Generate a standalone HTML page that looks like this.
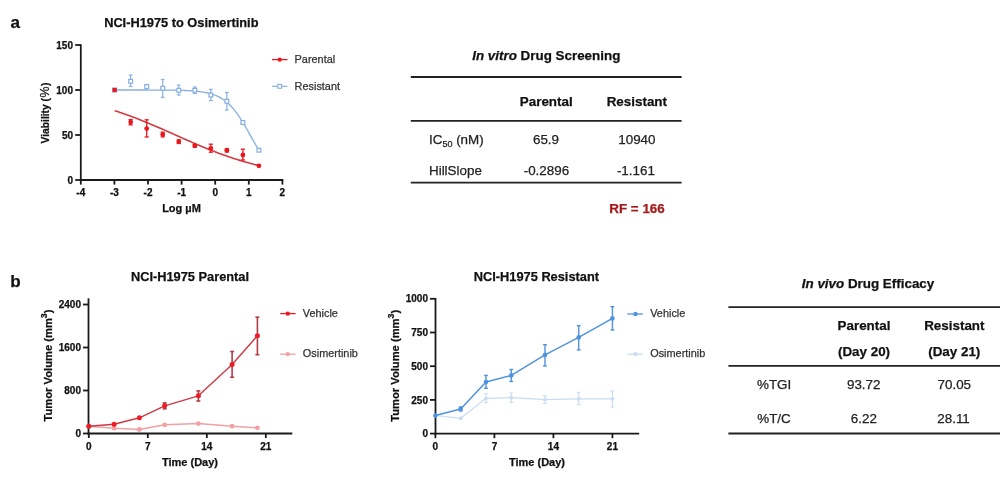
<!DOCTYPE html>
<html><head><meta charset="utf-8"><title>NCI-H1975 Osimertinib</title>
<style>
html,body{margin:0;padding:0;background:#fff;width:1000px;height:479px;overflow:hidden}
svg{display:block;will-change:transform;font-family:"Liberation Sans",sans-serif}
text{stroke-width:0.25px}
</style></head><body>
<svg width="1000" height="479" viewBox="0 0 1000 479">
<text x="10.50" y="27.60" font-size="17" font-weight="bold" text-anchor="start" fill="#111" stroke="#111" >a</text>
<text x="181.30" y="26.80" font-size="12.8" font-weight="bold" text-anchor="middle" fill="#111" stroke="#111" >NCI-H1975 to Osimertinib</text>
<line x1="80.80" y1="44.30" x2="80.80" y2="180.90" stroke="#1a1a1a" stroke-width="1.8" stroke-linecap="butt"/>
<line x1="80.00" y1="180.00" x2="283.30" y2="180.00" stroke="#1a1a1a" stroke-width="1.8" stroke-linecap="butt"/>
<line x1="75.20" y1="180.00" x2="80.80" y2="180.00" stroke="#1a1a1a" stroke-width="1.8" stroke-linecap="butt"/>
<text x="73.00" y="183.60" font-size="10" font-weight="bold" text-anchor="end" fill="#111" stroke="#111" >0</text>
<line x1="75.20" y1="135.00" x2="80.80" y2="135.00" stroke="#1a1a1a" stroke-width="1.8" stroke-linecap="butt"/>
<text x="73.00" y="138.60" font-size="10" font-weight="bold" text-anchor="end" fill="#111" stroke="#111" >50</text>
<line x1="75.20" y1="90.00" x2="80.80" y2="90.00" stroke="#1a1a1a" stroke-width="1.8" stroke-linecap="butt"/>
<text x="73.00" y="93.60" font-size="10" font-weight="bold" text-anchor="end" fill="#111" stroke="#111" >100</text>
<line x1="75.20" y1="45.00" x2="80.80" y2="45.00" stroke="#1a1a1a" stroke-width="1.8" stroke-linecap="butt"/>
<text x="73.00" y="48.60" font-size="10" font-weight="bold" text-anchor="end" fill="#111" stroke="#111" >150</text>
<line x1="80.80" y1="180.00" x2="80.80" y2="184.60" stroke="#1a1a1a" stroke-width="1.8" stroke-linecap="butt"/>
<text x="80.80" y="196.00" font-size="10" font-weight="bold" text-anchor="middle" fill="#111" stroke="#111" >-4</text>
<line x1="114.40" y1="180.00" x2="114.40" y2="184.60" stroke="#1a1a1a" stroke-width="1.8" stroke-linecap="butt"/>
<text x="114.40" y="196.00" font-size="10" font-weight="bold" text-anchor="middle" fill="#111" stroke="#111" >-3</text>
<line x1="148.00" y1="180.00" x2="148.00" y2="184.60" stroke="#1a1a1a" stroke-width="1.8" stroke-linecap="butt"/>
<text x="148.00" y="196.00" font-size="10" font-weight="bold" text-anchor="middle" fill="#111" stroke="#111" >-2</text>
<line x1="181.60" y1="180.00" x2="181.60" y2="184.60" stroke="#1a1a1a" stroke-width="1.8" stroke-linecap="butt"/>
<text x="181.60" y="196.00" font-size="10" font-weight="bold" text-anchor="middle" fill="#111" stroke="#111" >-1</text>
<line x1="215.20" y1="180.00" x2="215.20" y2="184.60" stroke="#1a1a1a" stroke-width="1.8" stroke-linecap="butt"/>
<text x="215.20" y="196.00" font-size="10" font-weight="bold" text-anchor="middle" fill="#111" stroke="#111" >0</text>
<line x1="248.80" y1="180.00" x2="248.80" y2="184.60" stroke="#1a1a1a" stroke-width="1.8" stroke-linecap="butt"/>
<text x="248.80" y="196.00" font-size="10" font-weight="bold" text-anchor="middle" fill="#111" stroke="#111" >1</text>
<line x1="282.40" y1="180.00" x2="282.40" y2="184.60" stroke="#1a1a1a" stroke-width="1.8" stroke-linecap="butt"/>
<text x="282.40" y="196.00" font-size="10" font-weight="bold" text-anchor="middle" fill="#111" stroke="#111" >2</text>
<text x="181.50" y="212.00" font-size="11" font-weight="bold" text-anchor="middle" fill="#111" stroke="#111" >Log µM</text>
<text transform="translate(48.9,113.0) rotate(-90)" x="0" y="0" font-size="10.25" font-weight="bold" text-anchor="middle" fill="#111" stroke="#111">Viability (<tspan dx="0.5" font-size="12.4" font-weight="normal">%</tspan><tspan dx="0.5">)</tspan></text>
<polyline points="114.64,90.00 116.44,90.00 118.24,90.00 120.05,90.00 121.85,90.00 123.65,90.00 125.46,90.00 127.26,90.01 129.06,90.01 130.87,90.01 132.67,90.01 134.47,90.01 136.28,90.01 138.08,90.01 139.88,90.01 141.69,90.02 143.49,90.02 145.29,90.02 147.10,90.02 148.90,90.03 150.70,90.03 152.51,90.04 154.31,90.04 156.12,90.05 157.92,90.06 159.72,90.07 161.53,90.08 163.33,90.09 165.13,90.10 166.94,90.12 168.74,90.14 170.54,90.16 172.35,90.18 174.15,90.21 175.95,90.25 177.76,90.28 179.56,90.33 181.36,90.38 183.17,90.44 184.97,90.50 186.77,90.58 188.58,90.67 190.38,90.77 192.18,90.89 193.99,91.02 195.79,91.18 197.60,91.36 199.40,91.56 201.20,91.80 203.01,92.07 204.81,92.38 206.61,92.74 208.42,93.15 210.22,93.61 212.02,94.15 213.83,94.75 215.63,95.44 217.43,96.22 219.24,97.11 221.04,98.11 222.84,99.23 224.65,100.49 226.45,101.89 228.25,103.45 230.06,105.18 231.86,107.07 233.66,109.15 235.47,111.40 237.27,113.83 239.08,116.42 240.88,119.18 242.68,122.08 244.49,125.10 246.29,128.21 248.09,131.40 249.90,134.62 251.70,137.84 253.50,141.04 255.31,144.17 257.11,147.22 258.91,150.14" fill="none" stroke="#86b0e0" stroke-width="1.3" stroke-linejoin="round"/>
<polyline points="114.64,110.70 116.44,111.28 118.24,111.86 120.05,112.46 121.85,113.07 123.65,113.69 125.46,114.32 127.26,114.96 129.06,115.61 130.87,116.27 132.67,116.94 134.47,117.62 136.28,118.31 138.08,119.01 139.88,119.72 141.69,120.44 143.49,121.16 145.29,121.89 147.10,122.64 148.90,123.38 150.70,124.14 152.51,124.90 154.31,125.67 156.12,126.44 157.92,127.22 159.72,128.00 161.53,128.79 163.33,129.58 165.13,130.38 166.94,131.18 168.74,131.98 170.54,132.78 172.35,133.58 174.15,134.39 175.95,135.19 177.76,136.00 179.56,136.80 181.36,137.61 183.17,138.41 184.97,139.21 186.77,140.01 188.58,140.80 190.38,141.59 192.18,142.38 193.99,143.16 195.79,143.93 197.60,144.70 199.40,145.47 201.20,146.23 203.01,146.98 204.81,147.72 206.61,148.46 208.42,149.19 210.22,149.91 212.02,150.62 213.83,151.33 215.63,152.02 217.43,152.71 219.24,153.38 221.04,154.05 222.84,154.70 224.65,155.35 226.45,155.99 228.25,156.61 230.06,157.23 231.86,157.83 233.66,158.42 235.47,159.00 237.27,159.57 239.08,160.13 240.88,160.68 242.68,161.22 244.49,161.75 246.29,162.26 248.09,162.77 249.90,163.26 251.70,163.74 253.50,164.21 255.31,164.67 257.11,165.12 258.91,165.56" fill="none" stroke="#d63a40" stroke-width="1.6" stroke-linejoin="round"/>
<rect x="112.74" y="88.10" width="3.8" height="3.8" fill="#fff" stroke="#86b0e0" stroke-width="1.2"/>
<line x1="130.67" y1="75.10" x2="130.67" y2="86.40" stroke="#86b0e0" stroke-width="1.2" stroke-linecap="butt"/>
<line x1="128.87" y1="75.10" x2="132.47" y2="75.10" stroke="#86b0e0" stroke-width="1.2" stroke-linecap="butt"/>
<line x1="128.87" y1="86.40" x2="132.47" y2="86.40" stroke="#86b0e0" stroke-width="1.2" stroke-linecap="butt"/>
<rect x="128.77" y="79.40" width="3.8" height="3.8" fill="#fff" stroke="#86b0e0" stroke-width="1.2"/>
<line x1="146.70" y1="84.50" x2="146.70" y2="88.50" stroke="#86b0e0" stroke-width="1.2" stroke-linecap="butt"/>
<line x1="144.90" y1="84.50" x2="148.50" y2="84.50" stroke="#86b0e0" stroke-width="1.2" stroke-linecap="butt"/>
<line x1="144.90" y1="88.50" x2="148.50" y2="88.50" stroke="#86b0e0" stroke-width="1.2" stroke-linecap="butt"/>
<rect x="144.80" y="84.70" width="3.8" height="3.8" fill="#fff" stroke="#86b0e0" stroke-width="1.2"/>
<line x1="162.73" y1="79.50" x2="162.73" y2="97.40" stroke="#86b0e0" stroke-width="1.2" stroke-linecap="butt"/>
<line x1="160.93" y1="79.50" x2="164.53" y2="79.50" stroke="#86b0e0" stroke-width="1.2" stroke-linecap="butt"/>
<line x1="160.93" y1="97.40" x2="164.53" y2="97.40" stroke="#86b0e0" stroke-width="1.2" stroke-linecap="butt"/>
<rect x="160.83" y="86.40" width="3.8" height="3.8" fill="#fff" stroke="#86b0e0" stroke-width="1.2"/>
<line x1="178.76" y1="85.00" x2="178.76" y2="95.00" stroke="#86b0e0" stroke-width="1.2" stroke-linecap="butt"/>
<line x1="176.96" y1="85.00" x2="180.56" y2="85.00" stroke="#86b0e0" stroke-width="1.2" stroke-linecap="butt"/>
<line x1="176.96" y1="95.00" x2="180.56" y2="95.00" stroke="#86b0e0" stroke-width="1.2" stroke-linecap="butt"/>
<rect x="176.86" y="88.40" width="3.8" height="3.8" fill="#fff" stroke="#86b0e0" stroke-width="1.2"/>
<line x1="194.79" y1="87.00" x2="194.79" y2="93.50" stroke="#86b0e0" stroke-width="1.2" stroke-linecap="butt"/>
<line x1="192.99" y1="87.00" x2="196.59" y2="87.00" stroke="#86b0e0" stroke-width="1.2" stroke-linecap="butt"/>
<line x1="192.99" y1="93.50" x2="196.59" y2="93.50" stroke="#86b0e0" stroke-width="1.2" stroke-linecap="butt"/>
<rect x="192.89" y="88.40" width="3.8" height="3.8" fill="#fff" stroke="#86b0e0" stroke-width="1.2"/>
<line x1="210.82" y1="89.40" x2="210.82" y2="100.60" stroke="#86b0e0" stroke-width="1.2" stroke-linecap="butt"/>
<line x1="209.02" y1="89.40" x2="212.62" y2="89.40" stroke="#86b0e0" stroke-width="1.2" stroke-linecap="butt"/>
<line x1="209.02" y1="100.60" x2="212.62" y2="100.60" stroke="#86b0e0" stroke-width="1.2" stroke-linecap="butt"/>
<rect x="208.92" y="93.10" width="3.8" height="3.8" fill="#fff" stroke="#86b0e0" stroke-width="1.2"/>
<line x1="226.85" y1="92.50" x2="226.85" y2="110.00" stroke="#86b0e0" stroke-width="1.2" stroke-linecap="butt"/>
<line x1="225.05" y1="92.50" x2="228.65" y2="92.50" stroke="#86b0e0" stroke-width="1.2" stroke-linecap="butt"/>
<line x1="225.05" y1="110.00" x2="228.65" y2="110.00" stroke="#86b0e0" stroke-width="1.2" stroke-linecap="butt"/>
<rect x="224.95" y="99.35" width="3.8" height="3.8" fill="#fff" stroke="#86b0e0" stroke-width="1.2"/>
<rect x="240.98" y="120.60" width="3.8" height="3.8" fill="#fff" stroke="#86b0e0" stroke-width="1.2"/>
<rect x="257.01" y="148.30" width="3.8" height="3.8" fill="#fff" stroke="#86b0e0" stroke-width="1.2"/>
<rect x="112.54" y="87.90" width="4.2" height="4.2" fill="#e8181f"/>
<line x1="130.67" y1="119.60" x2="130.67" y2="124.80" stroke="#e8181f" stroke-width="1.3" stroke-linecap="butt"/>
<line x1="128.57" y1="119.60" x2="132.77" y2="119.60" stroke="#e8181f" stroke-width="1.3" stroke-linecap="butt"/>
<line x1="128.57" y1="124.80" x2="132.77" y2="124.80" stroke="#e8181f" stroke-width="1.3" stroke-linecap="butt"/>
<circle cx="130.67" cy="122.10" r="2.4" fill="#e8181f"/>
<line x1="146.70" y1="119.80" x2="146.70" y2="137.00" stroke="#e8181f" stroke-width="1.3" stroke-linecap="butt"/>
<line x1="144.60" y1="119.80" x2="148.80" y2="119.80" stroke="#e8181f" stroke-width="1.3" stroke-linecap="butt"/>
<line x1="144.60" y1="137.00" x2="148.80" y2="137.00" stroke="#e8181f" stroke-width="1.3" stroke-linecap="butt"/>
<circle cx="146.70" cy="128.60" r="2.4" fill="#e8181f"/>
<line x1="162.73" y1="132.20" x2="162.73" y2="136.90" stroke="#e8181f" stroke-width="1.3" stroke-linecap="butt"/>
<line x1="160.63" y1="132.20" x2="164.83" y2="132.20" stroke="#e8181f" stroke-width="1.3" stroke-linecap="butt"/>
<line x1="160.63" y1="136.90" x2="164.83" y2="136.90" stroke="#e8181f" stroke-width="1.3" stroke-linecap="butt"/>
<circle cx="162.73" cy="134.50" r="2.4" fill="#e8181f"/>
<line x1="178.76" y1="139.90" x2="178.76" y2="143.50" stroke="#e8181f" stroke-width="1.3" stroke-linecap="butt"/>
<line x1="176.66" y1="139.90" x2="180.86" y2="139.90" stroke="#e8181f" stroke-width="1.3" stroke-linecap="butt"/>
<line x1="176.66" y1="143.50" x2="180.86" y2="143.50" stroke="#e8181f" stroke-width="1.3" stroke-linecap="butt"/>
<circle cx="178.76" cy="141.70" r="2.4" fill="#e8181f"/>
<line x1="194.79" y1="144.40" x2="194.79" y2="147.20" stroke="#e8181f" stroke-width="1.3" stroke-linecap="butt"/>
<line x1="192.69" y1="144.40" x2="196.89" y2="144.40" stroke="#e8181f" stroke-width="1.3" stroke-linecap="butt"/>
<line x1="192.69" y1="147.20" x2="196.89" y2="147.20" stroke="#e8181f" stroke-width="1.3" stroke-linecap="butt"/>
<circle cx="194.79" cy="145.80" r="2.4" fill="#e8181f"/>
<line x1="210.82" y1="144.20" x2="210.82" y2="152.20" stroke="#e8181f" stroke-width="1.3" stroke-linecap="butt"/>
<line x1="208.72" y1="144.20" x2="212.92" y2="144.20" stroke="#e8181f" stroke-width="1.3" stroke-linecap="butt"/>
<line x1="208.72" y1="152.20" x2="212.92" y2="152.20" stroke="#e8181f" stroke-width="1.3" stroke-linecap="butt"/>
<circle cx="210.82" cy="148.30" r="2.4" fill="#e8181f"/>
<line x1="226.85" y1="148.60" x2="226.85" y2="152.00" stroke="#e8181f" stroke-width="1.3" stroke-linecap="butt"/>
<line x1="224.75" y1="148.60" x2="228.95" y2="148.60" stroke="#e8181f" stroke-width="1.3" stroke-linecap="butt"/>
<line x1="224.75" y1="152.00" x2="228.95" y2="152.00" stroke="#e8181f" stroke-width="1.3" stroke-linecap="butt"/>
<circle cx="226.85" cy="150.30" r="2.4" fill="#e8181f"/>
<line x1="242.88" y1="149.20" x2="242.88" y2="160.00" stroke="#e8181f" stroke-width="1.3" stroke-linecap="butt"/>
<line x1="240.78" y1="149.20" x2="244.98" y2="149.20" stroke="#e8181f" stroke-width="1.3" stroke-linecap="butt"/>
<line x1="240.78" y1="160.00" x2="244.98" y2="160.00" stroke="#e8181f" stroke-width="1.3" stroke-linecap="butt"/>
<circle cx="242.88" cy="155.00" r="2.4" fill="#e8181f"/>
<circle cx="258.91" cy="165.80" r="2.4" fill="#e8181f"/>
<line x1="272.00" y1="59.60" x2="287.50" y2="59.60" stroke="#e8181f" stroke-width="1.3" stroke-linecap="butt"/>
<circle cx="279.70" cy="59.60" r="2.2" fill="#e8181f"/>
<text x="294.60" y="62.60" font-size="10.9" font-weight="normal" text-anchor="start" fill="#333" stroke="#333" >Parental</text>
<line x1="272.00" y1="86.30" x2="287.50" y2="86.30" stroke="#86b0e0" stroke-width="1.2" stroke-linecap="butt"/>
<rect x="277.80" y="84.40" width="3.8" height="3.8" fill="#fff" stroke="#86b0e0" stroke-width="1.1"/>
<text x="294.60" y="89.60" font-size="10.9" font-weight="normal" text-anchor="start" fill="#333" stroke="#333" >Resistant</text>
<text x="546.3" y="59.5" font-size="13.4" font-weight="bold" text-anchor="middle" fill="#111" stroke="#111"><tspan font-style="italic">In vitro</tspan> Drug Screening</text>
<line x1="410.80" y1="77.00" x2="681.60" y2="77.00" stroke="#222" stroke-width="1.8" stroke-linecap="butt"/>
<line x1="410.80" y1="120.85" x2="681.60" y2="120.85" stroke="#222" stroke-width="1.8" stroke-linecap="butt"/>
<line x1="410.80" y1="182.70" x2="681.60" y2="182.70" stroke="#222" stroke-width="1.8" stroke-linecap="butt"/>
<text x="546.25" y="106.20" font-size="13.4" font-weight="bold" text-anchor="middle" fill="#111" stroke="#111" >Parental</text>
<text x="636.85" y="106.20" font-size="13.4" font-weight="bold" text-anchor="middle" fill="#111" stroke="#111" >Resistant</text>
<text x="429" y="144.2" font-size="13.4" fill="#222" stroke="#222">IC<tspan font-size="9" dy="2.6">50</tspan><tspan dy="-2.6"> (nM)</tspan></text>
<text x="546.00" y="144.30" font-size="13.4" font-weight="normal" text-anchor="middle" fill="#222" stroke="#222" >65.9</text>
<text x="636.90" y="144.30" font-size="13.4" font-weight="normal" text-anchor="middle" fill="#222" stroke="#222" >10940</text>
<text x="429.00" y="174.60" font-size="13.4" font-weight="normal" text-anchor="start" fill="#222" stroke="#222" >HillSlope</text>
<text x="546.40" y="174.80" font-size="13.4" font-weight="normal" text-anchor="middle" fill="#222" stroke="#222" >-0.2896</text>
<text x="635.90" y="174.80" font-size="13.4" font-weight="normal" text-anchor="middle" fill="#222" stroke="#222" >-1.161</text>
<text x="637.00" y="212.50" font-size="13.4" font-weight="bold" text-anchor="middle" fill="#a3191c" stroke="#a3191c" >RF = 166</text>
<text x="10.30" y="286.70" font-size="17" font-weight="bold" text-anchor="start" fill="#111" stroke="#111" >b</text>
<text x="190.00" y="281.00" font-size="12.8" font-weight="bold" text-anchor="middle" fill="#111" stroke="#111" >NCI-H1975 Parental</text>
<line x1="88.50" y1="298.30" x2="88.50" y2="434.30" stroke="#1a1a1a" stroke-width="1.8" stroke-linecap="butt"/>
<line x1="87.60" y1="433.50" x2="292.30" y2="433.50" stroke="#1a1a1a" stroke-width="1.8" stroke-linecap="butt"/>
<line x1="83.00" y1="433.50" x2="88.50" y2="433.50" stroke="#1a1a1a" stroke-width="1.8" stroke-linecap="butt"/>
<text x="81.00" y="437.10" font-size="10" font-weight="bold" text-anchor="end" fill="#111" stroke="#111" >0</text>
<line x1="83.00" y1="390.50" x2="88.50" y2="390.50" stroke="#1a1a1a" stroke-width="1.8" stroke-linecap="butt"/>
<text x="81.00" y="394.10" font-size="10" font-weight="bold" text-anchor="end" fill="#111" stroke="#111" >800</text>
<line x1="83.00" y1="347.50" x2="88.50" y2="347.50" stroke="#1a1a1a" stroke-width="1.8" stroke-linecap="butt"/>
<text x="81.00" y="351.10" font-size="10" font-weight="bold" text-anchor="end" fill="#111" stroke="#111" >1600</text>
<line x1="83.00" y1="304.50" x2="88.50" y2="304.50" stroke="#1a1a1a" stroke-width="1.8" stroke-linecap="butt"/>
<text x="81.00" y="308.10" font-size="10" font-weight="bold" text-anchor="end" fill="#111" stroke="#111" >2400</text>
<line x1="88.80" y1="433.50" x2="88.80" y2="438.00" stroke="#1a1a1a" stroke-width="1.8" stroke-linecap="butt"/>
<text x="88.80" y="449.70" font-size="10" font-weight="bold" text-anchor="middle" fill="#111" stroke="#111" >0</text>
<line x1="147.81" y1="433.50" x2="147.81" y2="438.00" stroke="#1a1a1a" stroke-width="1.8" stroke-linecap="butt"/>
<text x="147.81" y="449.70" font-size="10" font-weight="bold" text-anchor="middle" fill="#111" stroke="#111" >7</text>
<line x1="206.82" y1="433.50" x2="206.82" y2="438.00" stroke="#1a1a1a" stroke-width="1.8" stroke-linecap="butt"/>
<text x="206.82" y="449.70" font-size="10" font-weight="bold" text-anchor="middle" fill="#111" stroke="#111" >14</text>
<line x1="265.83" y1="433.50" x2="265.83" y2="438.00" stroke="#1a1a1a" stroke-width="1.8" stroke-linecap="butt"/>
<text x="265.83" y="449.70" font-size="10" font-weight="bold" text-anchor="middle" fill="#111" stroke="#111" >21</text>
<text x="190.00" y="466.20" font-size="11" font-weight="bold" text-anchor="middle" fill="#111" stroke="#111" >Time (Day)</text>
<text transform="translate(51.8,365.5) rotate(-90)" x="0" y="0" font-size="11.2" font-weight="bold" text-anchor="middle" fill="#111" stroke="#111">Tumor Volume (mm<tspan font-size="8.8" dy="-5">3</tspan><tspan dy="5">)</tspan></text>
<polyline points="88.80,426.20 114.09,428.20 139.38,429.50 164.67,424.80 198.39,423.60 232.11,426.20 257.40,427.80" fill="none" stroke="#f2a0a3" stroke-width="1.5" stroke-linejoin="round"/>
<circle cx="88.80" cy="426.20" r="2.4" fill="#f2a0a3"/>
<circle cx="114.09" cy="428.20" r="2.4" fill="#f2a0a3"/>
<circle cx="139.38" cy="429.50" r="2.4" fill="#f2a0a3"/>
<circle cx="164.67" cy="424.80" r="2.4" fill="#f2a0a3"/>
<circle cx="198.39" cy="423.60" r="2.4" fill="#f2a0a3"/>
<circle cx="232.11" cy="426.20" r="2.4" fill="#f2a0a3"/>
<circle cx="257.40" cy="427.80" r="2.4" fill="#f2a0a3"/>
<polyline points="88.80,426.30 114.09,424.30 139.38,417.80 164.67,405.80 198.39,395.80 232.11,364.50 257.40,335.80" fill="none" stroke="#cc3a44" stroke-width="1.4" stroke-linejoin="round"/>
<circle cx="88.80" cy="426.30" r="2.5" fill="#ea1c25"/>
<circle cx="114.09" cy="424.30" r="2.5" fill="#ea1c25"/>
<circle cx="139.38" cy="417.80" r="2.5" fill="#ea1c25"/>
<line x1="164.67" y1="402.90" x2="164.67" y2="408.80" stroke="#b23c46" stroke-width="1.6" stroke-linecap="butt"/>
<line x1="162.67" y1="402.90" x2="166.67" y2="402.90" stroke="#b23c46" stroke-width="1.6" stroke-linecap="butt"/>
<line x1="162.67" y1="408.80" x2="166.67" y2="408.80" stroke="#b23c46" stroke-width="1.6" stroke-linecap="butt"/>
<circle cx="164.67" cy="405.80" r="2.5" fill="#ea1c25"/>
<line x1="198.39" y1="390.90" x2="198.39" y2="401.00" stroke="#b23c46" stroke-width="1.6" stroke-linecap="butt"/>
<line x1="196.39" y1="390.90" x2="200.39" y2="390.90" stroke="#b23c46" stroke-width="1.6" stroke-linecap="butt"/>
<line x1="196.39" y1="401.00" x2="200.39" y2="401.00" stroke="#b23c46" stroke-width="1.6" stroke-linecap="butt"/>
<circle cx="198.39" cy="395.80" r="2.5" fill="#ea1c25"/>
<line x1="232.11" y1="351.50" x2="232.11" y2="377.30" stroke="#b23c46" stroke-width="1.6" stroke-linecap="butt"/>
<line x1="230.11" y1="351.50" x2="234.11" y2="351.50" stroke="#b23c46" stroke-width="1.6" stroke-linecap="butt"/>
<line x1="230.11" y1="377.30" x2="234.11" y2="377.30" stroke="#b23c46" stroke-width="1.6" stroke-linecap="butt"/>
<circle cx="232.11" cy="364.50" r="2.5" fill="#ea1c25"/>
<line x1="257.40" y1="317.20" x2="257.40" y2="354.70" stroke="#b23c46" stroke-width="1.6" stroke-linecap="butt"/>
<line x1="255.40" y1="317.20" x2="259.40" y2="317.20" stroke="#b23c46" stroke-width="1.6" stroke-linecap="butt"/>
<line x1="255.40" y1="354.70" x2="259.40" y2="354.70" stroke="#b23c46" stroke-width="1.6" stroke-linecap="butt"/>
<circle cx="257.40" cy="335.80" r="2.5" fill="#ea1c25"/>
<line x1="280.20" y1="313.60" x2="295.60" y2="313.60" stroke="#ea1c25" stroke-width="1.3" stroke-linecap="butt"/>
<circle cx="287.80" cy="313.60" r="2.2" fill="#ea1c25"/>
<text x="302.80" y="316.70" font-size="10.9" font-weight="normal" text-anchor="start" fill="#333" stroke="#333" >Vehicle</text>
<line x1="280.20" y1="354.20" x2="295.60" y2="354.20" stroke="#f2a0a3" stroke-width="1.3" stroke-linecap="butt"/>
<circle cx="287.80" cy="354.20" r="2.1" fill="#f2a0a3"/>
<text x="302.80" y="357.30" font-size="10.9" font-weight="normal" text-anchor="start" fill="#333" stroke="#333" >Osimertinib</text>
<text x="536.40" y="281.10" font-size="12.8" font-weight="bold" text-anchor="middle" fill="#111" stroke="#111" >NCI-H1975 Resistant</text>
<line x1="435.50" y1="298.00" x2="435.50" y2="434.30" stroke="#1a1a1a" stroke-width="1.8" stroke-linecap="butt"/>
<line x1="434.60" y1="433.60" x2="639.20" y2="433.60" stroke="#1a1a1a" stroke-width="1.8" stroke-linecap="butt"/>
<line x1="430.00" y1="433.60" x2="435.50" y2="433.60" stroke="#1a1a1a" stroke-width="1.8" stroke-linecap="butt"/>
<text x="428.00" y="437.20" font-size="10" font-weight="bold" text-anchor="end" fill="#111" stroke="#111" >0</text>
<line x1="430.00" y1="399.90" x2="435.50" y2="399.90" stroke="#1a1a1a" stroke-width="1.8" stroke-linecap="butt"/>
<text x="428.00" y="403.50" font-size="10" font-weight="bold" text-anchor="end" fill="#111" stroke="#111" >250</text>
<line x1="430.00" y1="366.20" x2="435.50" y2="366.20" stroke="#1a1a1a" stroke-width="1.8" stroke-linecap="butt"/>
<text x="428.00" y="369.80" font-size="10" font-weight="bold" text-anchor="end" fill="#111" stroke="#111" >500</text>
<line x1="430.00" y1="332.50" x2="435.50" y2="332.50" stroke="#1a1a1a" stroke-width="1.8" stroke-linecap="butt"/>
<text x="428.00" y="336.10" font-size="10" font-weight="bold" text-anchor="end" fill="#111" stroke="#111" >750</text>
<line x1="430.00" y1="298.80" x2="435.50" y2="298.80" stroke="#1a1a1a" stroke-width="1.8" stroke-linecap="butt"/>
<text x="428.00" y="302.40" font-size="10" font-weight="bold" text-anchor="end" fill="#111" stroke="#111" >1000</text>
<line x1="435.40" y1="433.60" x2="435.40" y2="438.20" stroke="#1a1a1a" stroke-width="1.8" stroke-linecap="butt"/>
<text x="435.40" y="449.80" font-size="10" font-weight="bold" text-anchor="middle" fill="#111" stroke="#111" >0</text>
<line x1="494.41" y1="433.60" x2="494.41" y2="438.20" stroke="#1a1a1a" stroke-width="1.8" stroke-linecap="butt"/>
<text x="494.41" y="449.80" font-size="10" font-weight="bold" text-anchor="middle" fill="#111" stroke="#111" >7</text>
<line x1="553.42" y1="433.60" x2="553.42" y2="438.20" stroke="#1a1a1a" stroke-width="1.8" stroke-linecap="butt"/>
<text x="553.42" y="449.80" font-size="10" font-weight="bold" text-anchor="middle" fill="#111" stroke="#111" >14</text>
<line x1="612.43" y1="433.60" x2="612.43" y2="438.20" stroke="#1a1a1a" stroke-width="1.8" stroke-linecap="butt"/>
<text x="612.43" y="449.80" font-size="10" font-weight="bold" text-anchor="middle" fill="#111" stroke="#111" >21</text>
<text x="537.00" y="466.40" font-size="11" font-weight="bold" text-anchor="middle" fill="#111" stroke="#111" >Time (Day)</text>
<text transform="translate(399.1,365.8) rotate(-90)" x="0" y="0" font-size="11.2" font-weight="bold" text-anchor="middle" fill="#111" stroke="#111">Tumor Volume (mm<tspan font-size="8.8" dy="-5">3</tspan><tspan dy="5">)</tspan></text>
<polyline points="435.40,415.50 460.69,418.30 485.98,398.30 511.27,397.70 544.99,399.60 578.71,398.80 612.43,398.80" fill="none" stroke="#c9dcf2" stroke-width="1.25" stroke-linejoin="round"/>
<circle cx="435.40" cy="415.50" r="1.9" fill="#c9dcf2"/>
<circle cx="460.69" cy="418.30" r="1.9" fill="#c9dcf2"/>
<line x1="485.98" y1="393.50" x2="485.98" y2="402.60" stroke="#c9dcf2" stroke-width="1.1" stroke-linecap="butt"/>
<line x1="484.08" y1="393.50" x2="487.88" y2="393.50" stroke="#c9dcf2" stroke-width="1.1" stroke-linecap="butt"/>
<line x1="484.08" y1="402.60" x2="487.88" y2="402.60" stroke="#c9dcf2" stroke-width="1.1" stroke-linecap="butt"/>
<circle cx="485.98" cy="398.30" r="1.9" fill="#c9dcf2"/>
<line x1="511.27" y1="392.90" x2="511.27" y2="402.50" stroke="#c9dcf2" stroke-width="1.1" stroke-linecap="butt"/>
<line x1="509.37" y1="392.90" x2="513.17" y2="392.90" stroke="#c9dcf2" stroke-width="1.1" stroke-linecap="butt"/>
<line x1="509.37" y1="402.50" x2="513.17" y2="402.50" stroke="#c9dcf2" stroke-width="1.1" stroke-linecap="butt"/>
<circle cx="511.27" cy="397.70" r="1.9" fill="#c9dcf2"/>
<line x1="544.99" y1="395.80" x2="544.99" y2="403.50" stroke="#c9dcf2" stroke-width="1.1" stroke-linecap="butt"/>
<line x1="543.09" y1="395.80" x2="546.89" y2="395.80" stroke="#c9dcf2" stroke-width="1.1" stroke-linecap="butt"/>
<line x1="543.09" y1="403.50" x2="546.89" y2="403.50" stroke="#c9dcf2" stroke-width="1.1" stroke-linecap="butt"/>
<circle cx="544.99" cy="399.60" r="1.9" fill="#c9dcf2"/>
<line x1="578.71" y1="392.30" x2="578.71" y2="404.60" stroke="#c9dcf2" stroke-width="1.1" stroke-linecap="butt"/>
<line x1="576.81" y1="392.30" x2="580.61" y2="392.30" stroke="#c9dcf2" stroke-width="1.1" stroke-linecap="butt"/>
<line x1="576.81" y1="404.60" x2="580.61" y2="404.60" stroke="#c9dcf2" stroke-width="1.1" stroke-linecap="butt"/>
<circle cx="578.71" cy="398.80" r="1.9" fill="#c9dcf2"/>
<line x1="612.43" y1="390.90" x2="612.43" y2="407.00" stroke="#c9dcf2" stroke-width="1.1" stroke-linecap="butt"/>
<line x1="610.53" y1="390.90" x2="614.33" y2="390.90" stroke="#c9dcf2" stroke-width="1.1" stroke-linecap="butt"/>
<line x1="610.53" y1="407.00" x2="614.33" y2="407.00" stroke="#c9dcf2" stroke-width="1.1" stroke-linecap="butt"/>
<circle cx="612.43" cy="398.80" r="1.9" fill="#c9dcf2"/>
<polyline points="435.40,415.50 460.69,409.00 485.98,382.00 511.27,375.40 544.99,354.90 578.71,337.40 612.43,318.40" fill="none" stroke="#4f93e0" stroke-width="1.5" stroke-linejoin="round"/>
<circle cx="435.40" cy="415.50" r="2.3" fill="#4f93e0"/>
<line x1="460.69" y1="407.00" x2="460.69" y2="411.00" stroke="#4f93e0" stroke-width="1.4" stroke-linecap="butt"/>
<line x1="458.79" y1="407.00" x2="462.59" y2="407.00" stroke="#4f93e0" stroke-width="1.4" stroke-linecap="butt"/>
<line x1="458.79" y1="411.00" x2="462.59" y2="411.00" stroke="#4f93e0" stroke-width="1.4" stroke-linecap="butt"/>
<circle cx="460.69" cy="409.00" r="2.3" fill="#4f93e0"/>
<line x1="485.98" y1="375.40" x2="485.98" y2="388.30" stroke="#4f93e0" stroke-width="1.4" stroke-linecap="butt"/>
<line x1="484.08" y1="375.40" x2="487.88" y2="375.40" stroke="#4f93e0" stroke-width="1.4" stroke-linecap="butt"/>
<line x1="484.08" y1="388.30" x2="487.88" y2="388.30" stroke="#4f93e0" stroke-width="1.4" stroke-linecap="butt"/>
<circle cx="485.98" cy="382.00" r="2.3" fill="#4f93e0"/>
<line x1="511.27" y1="369.50" x2="511.27" y2="381.50" stroke="#4f93e0" stroke-width="1.4" stroke-linecap="butt"/>
<line x1="509.37" y1="369.50" x2="513.17" y2="369.50" stroke="#4f93e0" stroke-width="1.4" stroke-linecap="butt"/>
<line x1="509.37" y1="381.50" x2="513.17" y2="381.50" stroke="#4f93e0" stroke-width="1.4" stroke-linecap="butt"/>
<circle cx="511.27" cy="375.40" r="2.3" fill="#4f93e0"/>
<line x1="544.99" y1="344.70" x2="544.99" y2="366.00" stroke="#4f93e0" stroke-width="1.4" stroke-linecap="butt"/>
<line x1="543.09" y1="344.70" x2="546.89" y2="344.70" stroke="#4f93e0" stroke-width="1.4" stroke-linecap="butt"/>
<line x1="543.09" y1="366.00" x2="546.89" y2="366.00" stroke="#4f93e0" stroke-width="1.4" stroke-linecap="butt"/>
<circle cx="544.99" cy="354.90" r="2.3" fill="#4f93e0"/>
<line x1="578.71" y1="325.70" x2="578.71" y2="349.90" stroke="#4f93e0" stroke-width="1.4" stroke-linecap="butt"/>
<line x1="576.81" y1="325.70" x2="580.61" y2="325.70" stroke="#4f93e0" stroke-width="1.4" stroke-linecap="butt"/>
<line x1="576.81" y1="349.90" x2="580.61" y2="349.90" stroke="#4f93e0" stroke-width="1.4" stroke-linecap="butt"/>
<circle cx="578.71" cy="337.40" r="2.3" fill="#4f93e0"/>
<line x1="612.43" y1="306.70" x2="612.43" y2="330.00" stroke="#4f93e0" stroke-width="1.4" stroke-linecap="butt"/>
<line x1="610.53" y1="306.70" x2="614.33" y2="306.70" stroke="#4f93e0" stroke-width="1.4" stroke-linecap="butt"/>
<line x1="610.53" y1="330.00" x2="614.33" y2="330.00" stroke="#4f93e0" stroke-width="1.4" stroke-linecap="butt"/>
<circle cx="612.43" cy="318.40" r="2.3" fill="#4f93e0"/>
<line x1="627.40" y1="314.00" x2="642.80" y2="314.00" stroke="#4f93e0" stroke-width="1.3" stroke-linecap="butt"/>
<circle cx="635.50" cy="314.00" r="2.2" fill="#4f93e0"/>
<text x="650.20" y="317.20" font-size="10.9" font-weight="normal" text-anchor="start" fill="#333" stroke="#333" >Vehicle</text>
<line x1="627.40" y1="354.20" x2="642.80" y2="354.20" stroke="#c9dcf2" stroke-width="1.3" stroke-linecap="butt"/>
<circle cx="635.50" cy="354.20" r="2.1" fill="#c9dcf2"/>
<text x="650.20" y="357.40" font-size="10.9" font-weight="normal" text-anchor="start" fill="#333" stroke="#333" >Osimertinib</text>
<text x="868" y="288.4" font-size="13.4" font-weight="bold" text-anchor="middle" fill="#111" stroke="#111"><tspan font-style="italic">In vivo</tspan> Drug Efficacy</text>
<line x1="728.40" y1="307.10" x2="1000.00" y2="307.10" stroke="#222" stroke-width="1.8" stroke-linecap="butt"/>
<line x1="728.40" y1="365.90" x2="1000.00" y2="365.90" stroke="#222" stroke-width="1.8" stroke-linecap="butt"/>
<line x1="728.40" y1="433.50" x2="1000.00" y2="433.50" stroke="#222" stroke-width="1.8" stroke-linecap="butt"/>
<text x="864.00" y="330.10" font-size="13.4" font-weight="bold" text-anchor="middle" fill="#111" stroke="#111" >Parental</text>
<text x="954.35" y="330.10" font-size="13.4" font-weight="bold" text-anchor="middle" fill="#111" stroke="#111" >Resistant</text>
<text x="864.00" y="355.50" font-size="13.4" font-weight="bold" text-anchor="middle" fill="#111" stroke="#111" >(Day 20)</text>
<text x="954.30" y="355.50" font-size="13.4" font-weight="bold" text-anchor="middle" fill="#111" stroke="#111" >(Day 21)</text>
<text x="774.10" y="388.90" font-size="13.4" font-weight="normal" text-anchor="middle" fill="#222" stroke="#222" >%TGI</text>
<text x="863.70" y="388.90" font-size="13.4" font-weight="normal" text-anchor="middle" fill="#222" stroke="#222" >93.72</text>
<text x="954.30" y="388.90" font-size="13.4" font-weight="normal" text-anchor="middle" fill="#222" stroke="#222" >70.05</text>
<text x="774.00" y="422.90" font-size="13.4" font-weight="normal" text-anchor="middle" fill="#222" stroke="#222" >%T/C</text>
<text x="863.80" y="422.90" font-size="13.4" font-weight="normal" text-anchor="middle" fill="#222" stroke="#222" >6.22</text>
<text x="953.55" y="422.90" font-size="13.4" font-weight="normal" text-anchor="middle" fill="#222" stroke="#222" >28.11</text>
</svg>
</body></html>
